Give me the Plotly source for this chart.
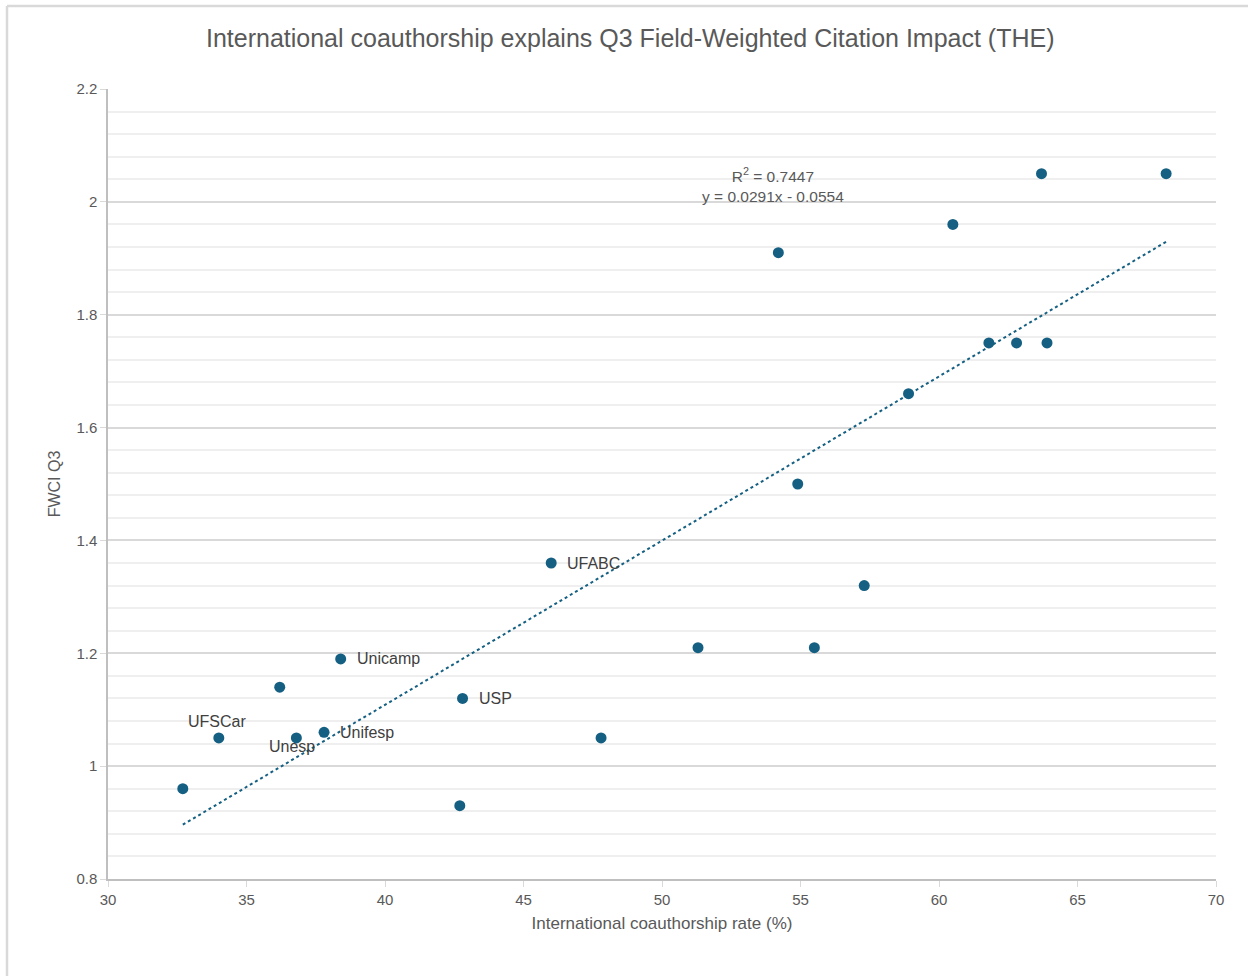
import plotly.graph_objects as go

# Data
coauthorship_rate = [32.7, 34.0, 36.2, 36.8, 37.8, 38.4, 42.8, 42.7, 46.0, 47.8, 51.3,
                     54.2, 54.9, 55.5, 57.3, 58.9, 60.5, 61.8, 62.8, 63.7, 63.9, 68.2]
fwci_q3 = [0.96, 1.05, 1.14, 1.05, 1.06, 1.19, 1.12, 0.93, 1.36, 1.05, 1.21,
           1.91, 1.50, 1.21, 1.32, 1.66, 1.96, 1.75, 1.75, 2.05, 1.75, 2.05]
labels = ["", "UFSCar", "", "Unesp", "Unifesp", "Unicamp", "USP", "", "UFABC", "", "",
          "", "", "", "", "", "", "", "", "", "", ""]
label_side = {"UFSCar": "above", "Unesp": "below", "Unifesp": "right",
              "Unicamp": "right", "USP": "right", "UFABC": "right"}
trend_slope = 0.0291
trend_intercept = -0.0554
r_squared = 0.7447

x_ticks = [30, 35, 40, 45, 50, 55, 60, 65, 70]
y_ticks = [0.8, 1.0, 1.2, 1.4, 1.6, 1.8, 2.0, 2.2]
y_tick_text = ["0.8", "1", "1.2", "1.4", "1.6", "1.8", "2", "2.2"]

COLOR = "#156082"
GRID_MAJOR = "#d9d9d9"
GRID_MINOR = "#efefef"
TEXT = "#595959"
FONT = "Liberation Sans"

trend_x = [min(coauthorship_rate), max(coauthorship_rate)]
trend_y = [trend_slope * v + trend_intercept for v in trend_x]

fig = go.Figure()
fig.add_trace(go.Scatter(
    x=trend_x, y=trend_y, mode="lines",
    line=dict(color=COLOR, width=2, dash="dot"),
    hoverinfo="skip", showlegend=False,
))
fig.add_trace(go.Scatter(
    x=coauthorship_rate, y=fwci_q3, mode="markers",
    marker=dict(color=COLOR, size=11),
    showlegend=False,
))

for x, y, t in zip(coauthorship_rate, fwci_q3, labels):
    if not t:
        continue
    side = label_side[t]
    if side == "right":
        kw = dict(xanchor="left", yanchor="middle", xshift=14, yshift=0)
    elif side == "above":
        kw = dict(xanchor="center", yanchor="middle", xshift=-2, yshift=16)
    else:
        kw = dict(xanchor="center", yanchor="middle", xshift=-4, yshift=-9)
    fig.add_annotation(x=x, y=y, xref="x", yref="y", text=t, showarrow=False,
                       font=dict(family=FONT, size=16, color="#404040"), **kw)

fig.add_annotation(
    x=54.0, y=2.03, xref="x", yref="y", showarrow=False,
    text=f"R<sup>2</sup> = {r_squared}<br>y = {trend_slope}x - {abs(trend_intercept)}",
    font=dict(family=FONT, size=15.5, color=TEXT), align="center",
)

FRAME_X = (7 - 108) / 1108
FRAME_Y = 1 + (89 - 6) / 790

fig.update_layout(
    width=1248, height=976,
    paper_bgcolor="white", plot_bgcolor="white",
    margin=dict(l=108, r=32, t=89, b=97),
    title=dict(text="International coauthorship explains Q3 Field-Weighted Citation Impact (THE)",
               x=0.505, xanchor="center", y=0.961, yanchor="middle",
               font=dict(family="Liberation Sans Narrow, " + FONT, size=25, color=TEXT)),
    xaxis=dict(range=[30, 70], tickvals=x_ticks, ticks="outside", ticklen=6,
               tickcolor=GRID_MAJOR, showgrid=False, zeroline=False,
               showline=True, linecolor="#bfbfbf", linewidth=1.5,
               tickfont=dict(family=FONT, size=15, color=TEXT),
               title=dict(text="International coauthorship rate (%)",
                          font=dict(family=FONT, size=17, color=TEXT), standoff=10)),
    yaxis=dict(range=[0.8, 2.2], tickvals=y_ticks, ticktext=y_tick_text,
               ticks="outside", ticklen=6, tickcolor=GRID_MAJOR,
               showgrid=True, gridcolor=GRID_MAJOR, gridwidth=1.5, zeroline=False,
               showline=True, linecolor="#bfbfbf", linewidth=1.5,
               minor=dict(dtick=0.04, showgrid=True, gridcolor=GRID_MINOR, gridwidth=1.5),
               tickfont=dict(family=FONT, size=15, color=TEXT),
               title=dict(text="FWCI Q3", font=dict(family=FONT, size=16, color=TEXT),
                          standoff=12)),
    shapes=[
        dict(type="line", xref="paper", yref="paper", x0=FRAME_X, x1=1.05,
             y0=FRAME_Y, y1=FRAME_Y, line=dict(color="#d9d9d9", width=2.5)),
        dict(type="line", xref="paper", yref="paper", x0=FRAME_X, x1=FRAME_X,
             y0=-0.2, y1=FRAME_Y, line=dict(color="#d9d9d9", width=2.5)),
    ],
)

fig.write_html("out.html", config={"displayModeBar": False},
               post_script="document.body.style.margin='0px';")
